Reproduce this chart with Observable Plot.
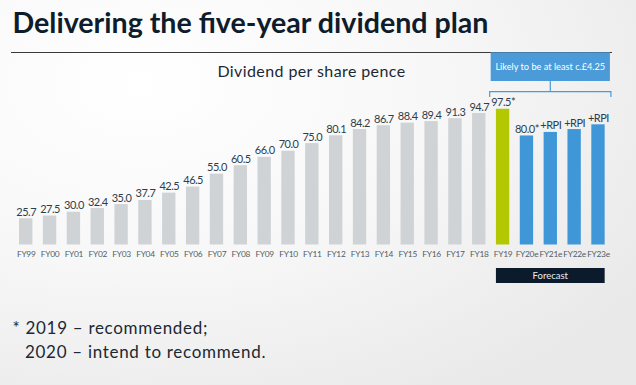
<!DOCTYPE html>
<html><head><meta charset="utf-8">
<script src="https://cdn.jsdelivr.net/npm/d3@7"></script>
<script src="https://cdn.jsdelivr.net/npm/@observablehq/plot@0.6"></script>
<style>
html,body{margin:0;padding:0;}
body{width:636px;height:385px;overflow:hidden;background:radial-gradient(ellipse 95% 95% at 22% 22%, #ffffff 0%, #f7f7f7 50%, #e9e9e9 100%);font-family:Lato,sans-serif;}
#wrap{position:relative;width:636px;height:385px;}
#wrap svg{position:absolute;left:0;top:0;}
</style></head><body><div id="wrap"></div>
<script>
// ---- data ----
const years = ["FY99","FY00","FY01","FY02","FY03","FY04","FY05","FY06","FY07","FY08","FY09","FY10","FY11","FY12","FY13","FY14","FY15","FY16","FY17","FY18","FY19","FY20e","FY21e","FY22e","FY23e"];
const dividends = [25.7,27.5,30.0,32.4,35.0,37.7,42.5,46.5,55.0,60.5,66.0,70.0,75.0,80.1,84.2,86.7,88.4,89.4,91.3,94.7,97.5,80.0,82.3,84.2,87.3];
const valueLabels = ["25.7","27.5","30.0","32.4","35.0","37.7","42.5","46.5","55.0","60.5","66.0","70.0","75.0","80.1","84.2","86.7","88.4","89.4","91.3","94.7","97.5*","80.0*","+RPI","+RPI","+RPI"];
const kinds = ["actual","actual","actual","actual","actual","actual","actual","actual","actual","actual","actual","actual","actual","actual","actual","actual","actual","actual","actual","actual","recommended","forecast","forecast","forecast","forecast"];
const kindColors = ["#cfd3d6","#b3c803","#3f97d8"];
const titleText = "Delivering the five-year dividend plan";
const subtitleText = "Dividend per share pence";
const boxText = "Likely to be at least c.£4.25";
const forecastText = "Forecast";
const footnoteLines = ["* 2019 – recommended;", "2020 – intend to recommend."];

const data = years.map((year, i) => ({year, value: dividends[i], label: valueLabels[i], kind: kinds[i]}));

// ---- overlay: title, rule, subtitle, footnote ----
const W = 636, H = 385;
const over = d3.select("#wrap").append("svg").attr("width", W).attr("height", H)
  .style("font-family", "Lato, sans-serif");
over.append("text").attr("x", 12.5).attr("y", 33.3).attr("font-size", 28.6).attr("font-weight", 700)
  .attr("fill", "#0e1c2b").text(titleText);
over.append("line").attr("x1", 11).attr("x2", 612).attr("y1", 52.5).attr("y2", 52.5)
  .attr("stroke", "#3a3a3a").attr("stroke-width", 1.2);
over.append("text").attr("x", 311.5).attr("y", 76.7).attr("text-anchor", "middle").attr("font-size", 16)
  .attr("letter-spacing", 0.4).attr("fill", "#1c2833").text(subtitleText);
over.append("text").attr("x", 12.5).attr("y", 334.3).attr("font-size", 17).attr("fill", "#1c2833")
  .attr("letter-spacing", 0.7).text(footnoteLines[0]);
over.append("text").attr("x", 25).attr("y", 358.3).attr("font-size", 17).attr("fill", "#1c2833")
  .attr("letter-spacing", 0.7).text(footnoteLines[1]);

// ---- forecast annotation (custom mark using the x scale) ----
function forecastAnnotation(index, scales) {
  const x = scales.x;
  const bw = typeof x.bandwidth === "function" ? x.bandwidth() : x.bandwidth;
  const first = years[kinds.indexOf("recommended")];
  const last = years[years.length - 1];
  const step = (x(last) - x(first)) / (years.indexOf(last) - years.indexOf(first));
  const gap = (step - bw) / 2;
  const slot0 = x(first) - gap, slot1 = x(last) + bw + gap;
  const g = d3.create("svg:g").attr("font-family", "Lato, sans-serif");
  g.append("rect").attr("x", slot0).attr("y", 52.3).attr("width", slot1 - slot0).attr("height", 28.7).attr("fill", "#4a9bd8");
  g.append("text").attr("x", (slot0 + slot1) / 2).attr("y", 66.7).attr("dy", "0.35em").attr("text-anchor", "middle")
    .attr("font-size", 9.2).attr("fill", "#ffffff").text(boxText);
  const mid = (slot0 + slot1) / 2;
  g.append("path").attr("d", `M${slot0 - 1},97 V91.7 H${slot1 + 1} V97 M${mid},81 V91.7`)
    .attr("fill", "none").attr("stroke", "#4a9bd8").attr("stroke-width", 1.2);
  const b0 = x(first), b1 = x(last) + bw;
  g.append("rect").attr("x", b0).attr("y", 268).attr("width", b1 - b0).attr("height", 15).attr("fill", "#0b1b2b");
  g.append("text").attr("x", (b0 + b1) / 2).attr("y", 275.5).attr("dy", "0.35em").attr("text-anchor", "middle")
    .attr("font-size", 9.5).attr("fill", "#e8edf2").text(forecastText);
  return g.node();
}

const plot = Plot.plot({
  width: W, height: H,
  marginLeft: 13.8, marginRight: 26.1, marginTop: 104.95, marginBottom: 140.5,
  style: {background: "transparent", fontFamily: "Lato, sans-serif", overflow: "visible"},
  x: {domain: years, paddingInner: 0.44, paddingOuter: 0.22, round: false},
  y: {domain: [8.5, 100], axis: null},
  color: {domain: ["actual", "recommended", "forecast"], range: kindColors},
  marks: [
    Plot.barY(data, {x: "year", y: "value", fill: "kind", clip: true}),
    Plot.text(data, {x: "year", y: "value", text: "label", lineAnchor: "bottom", dy: -3, fontSize: 11, fill: "#2e3e4d"}),
    Plot.axisX({tickSize: 0, tickPadding: 6, fontSize: 8.4, color: "#525d66", label: null}),
    forecastAnnotation
  ]
});
d3.select(plot).selectAll('g[aria-label="text"]').attr("letter-spacing", -0.5);
d3.select(plot).selectAll('g[aria-label="x-axis tick label"]').attr("letter-spacing", -0.3);
document.getElementById("wrap").appendChild(plot);
</script>
</body></html>
